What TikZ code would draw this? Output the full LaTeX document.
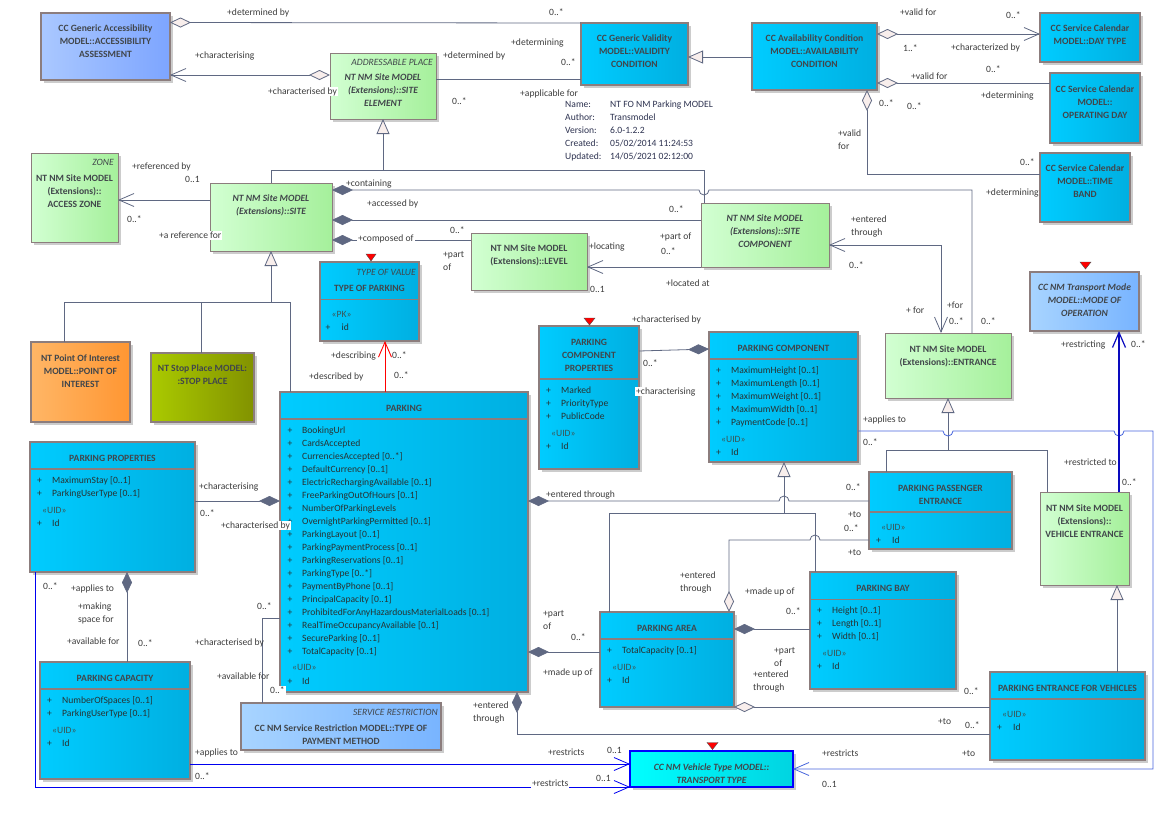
\documentclass[tikz,border=0pt]{standalone}
\usepackage{fontspec}
\setmainfont{Carlito}
\usetikzlibrary{arrows.meta,shadows}
\definecolor{cyL}{RGB}{0,204,255}
\definecolor{cyR}{RGB}{0,175,225}
\definecolor{grL}{RGB}{210,255,210}
\definecolor{grR}{RGB}{165,240,155}
\definecolor{aaL}{RGB}{170,200,255}
\definecolor{aaR}{RGB}{125,165,255}
\definecolor{moL}{RGB}{168,212,255}
\definecolor{moR}{RGB}{120,180,255}
\definecolor{orL}{RGB}{255,182,102}
\definecolor{orR}{RGB}{255,150,50}
\definecolor{olL}{RGB}{170,202,0}
\definecolor{olR}{RGB}{130,146,0}
\definecolor{ttL}{RGB}{0,255,255}
\definecolor{ttR}{RGB}{0,212,225}
\definecolor{bdr}{RGB}{140,125,125}
\definecolor{lnc}{RGB}{95,104,130}
\definecolor{hol}{RGB}{248,238,236}
\definecolor{ttx}{RGB}{65,70,75}
\definecolor{atx}{RGB}{40,50,50}
\definecolor{uidc}{RGB}{60,85,85}
\definecolor{lbc}{RGB}{60,60,60}
\definecolor{infoc}{RGB}{45,50,80}
\definecolor{blA}{RGB}{0,0,240}
\definecolor{blB}{RGB}{70,100,220}
\definecolor{blC}{RGB}{10,10,190}
\newcounter{tn}
\newcommand\fs{\fontsize{9.6pt}{13pt}\selectfont}
\newcommand\attline[4]{\node[att] at (#1,#3) {+};\node[att] at (#2,#3) {#4};}
\newcommand\lab[3]{\node[lbl] at (#1,#2) {#3};}
\newcommand\wlab[3]{\node[wlbl] at (#1,#2) {#3};}
\tikzset{
  nm/.code={\stepcounter{tn}\edef\tmpnm{\noexpand\pgfkeysalso{name=t\arabic{tn}}}\tmpnm},
  OA/.tip={Straight Barb[length=15pt,width=13pt]},
  HD/.tip={Diamond[length=21pt,width=10pt,fill=hol]},
  FD/.tip={Diamond[length=21pt,width=10pt]},
  GT/.tip={Triangle[length=15pt,width=13pt,fill=hol]},
  box/.style={inner sep=0pt, outer sep=0pt, anchor=north west, draw=bdr,
    drop shadow={shadow xshift=3pt,shadow yshift=-3pt,fill=black!20,opacity=1}},
  cbox/.style={box, line width=1.8pt, left color=cyL, right color=cyR},
  gbox/.style={box, line width=0.9pt, left color=grL, right color=grR},
  abox/.style={box, line width=1.2pt, left color=aaL, right color=aaR},
  mbox/.style={box, line width=1.2pt, left color=moL, right color=moR},
  obox/.style={box, line width=1.2pt, left color=orL, right color=orR},
  olbox/.style={box, line width=1.2pt, left color=olL, right color=olR},
  tbox/.style={box, draw=blue, line width=2.6pt, left color=ttL, right color=ttR},
  dv/.style={draw=bdr, line width=1.6pt},
  txt/.style={nm, inner sep=0pt, text height=7pt, text depth=0pt, font=\fs},
  ttl/.style={txt, font=\fs\bfseries, text=ttx},
  ttli/.style={txt, font=\fs\bfseries\itshape, text=ttx},
  ster/.style={txt, font=\fs\itshape, text=ttx, anchor=east},
  att/.style={txt, text=atx, anchor=west},
  uid/.style={txt, text=uidc, anchor=west},
  lbl/.style={txt, text=lbc, anchor=west},
  wlbl/.style={lbl, fill=white, inner xsep=1pt, inner ysep=1pt},
  info/.style={txt, text=infoc, anchor=west},
  ln/.style={draw=lnc, line width=0.8pt},
  redtri/.style={fill=red, draw=black!70, line width=0.4pt}
}
\begin{document}
\begin{tikzpicture}[x=1pt,y=-1pt]
\useasboundingbox (0,0) rectangle (1163,817);
% ---------- boxes ----------
\node[abox, minimum width=129pt, minimum height=67pt] (aa) at (41,13) {};
\node[gbox, minimum width=106pt, minimum height=66pt] (se) at (330,53) {};
\node[cbox, minimum width=107pt, minimum height=62pt] (val) at (581,23) {};
\node[cbox, minimum width=125pt, minimum height=67pt] (avail) at (752,23) {};
\node[cbox, minimum width=100pt, minimum height=49pt] (dt) at (1040,13) {};
\node[cbox, minimum width=90pt, minimum height=70pt] (od) at (1050,73) {};
\node[cbox, minimum width=90pt, minimum height=69pt] (tb) at (1040,153) {};
\node[gbox, minimum width=87pt, minimum height=89pt] (az) at (31,153) {};
\node[gbox, minimum width=122pt, minimum height=68pt] (site) at (210,183) {};
\node[cbox, minimum width=99pt, minimum height=79pt] (top) at (320,262) {};
\node[gbox, minimum width=116pt, minimum height=57pt] (lvl) at (471,233) {};
\node[gbox, minimum width=128pt, minimum height=64pt] (sc) at (701,203) {};
\node[obox, minimum width=99pt, minimum height=80pt] (poi) at (31,342) {};
\node[olbox, minimum width=103pt, minimum height=69pt] (sp) at (151,353) {};
\node[cbox, minimum width=248pt, minimum height=300pt] (park) at (280,392) {};
\node[cbox, minimum width=165pt, minimum height=130pt] (pp) at (30,442) {};
\node[cbox, minimum width=150pt, minimum height=117pt] (pc) at (40,662) {};
\node[mbox, minimum width=200pt, minimum height=47pt] (tpm) at (241,703) {};
\node[cbox, minimum width=100pt, minimum height=143pt] (pcp) at (539,326) {};
\node[cbox, minimum width=149pt, minimum height=130pt] (pcomp) at (709,332) {};
\node[gbox, minimum width=126pt, minimum height=65pt] (ent) at (885,333) {};
\node[mbox, minimum width=109pt, minimum height=59pt] (mo) at (1030,272) {};
\node[cbox, minimum width=143pt, minimum height=77pt] (ppe) at (869,472) {};
\node[gbox, minimum width=89pt, minimum height=93pt] (ve) at (1040,492) {};
\node[cbox, minimum width=146pt, minimum height=117pt] (bay) at (810,572) {};
\node[cbox, minimum width=134pt, minimum height=95pt] (pa) at (600,612) {};
\node[cbox, minimum width=155pt, minimum height=88pt] (pev) at (990,672) {};
\node[tbox, minimum width=163pt, minimum height=36pt] (tt) at (630,751) {};
% dividers
\draw[dv] (top.west |- 0,299.5) -- (top.east |- 0,299.5);
\draw[dv] (park.west |- 0,419) -- (park.east |- 0,419);
\draw[dv] (pp.west |- 0,469) -- (pp.east |- 0,469);
\draw[dv] (pc.west |- 0,689) -- (pc.east |- 0,689);
\draw[dv] (pcp.west |- 0,379) -- (pcp.east |- 0,379);
\draw[dv] (pcomp.west |- 0,359) -- (pcomp.east |- 0,359);
\draw[dv] (ppe.west |- 0,512) -- (ppe.east |- 0,512);
\draw[dv] (bay.west |- 0,599.5) -- (bay.east |- 0,599.5);
\draw[dv] (pa.west |- 0,639) -- (pa.east |- 0,639);
\draw[dv] (pev.west |- 0,699) -- (pev.east |- 0,699);
% red markers
\fill[redtri] (366,254) -- (376,254) -- (371,261) -- cycle;
\fill[redtri] (584,318) -- (595,318) -- (589.5,325) -- cycle;
\fill[redtri] (1080,262) -- (1091,262) -- (1085.5,269) -- cycle;
\fill[redtri] (707,742.5) -- (718,742.5) -- (712.5,749.5) -- cycle;
% ---------- box texts ----------
\node[ttl] at (105.5,28) {CC Generic Accessibility};
\node[ttl] at (105.5,41) {MODEL::ACCESSIBILITY};
\node[ttl] at (105.5,54) {ASSESSMENT};
\node[ster] at (433,62) {ADDRESSABLE PLACE};
\node[ttli] at (383,77) {NT NM Site MODEL};
\node[ttli] at (383,90) {(Extensions)::SITE};
\node[ttli] at (383,103) {ELEMENT};
\node[ttl] at (634.5,38) {CC Generic Validity};
\node[ttl] at (634.5,51) {MODEL::VALIDITY};
\node[ttl] at (634.5,64) {CONDITION};
\node[ttl] at (814.5,38) {CC Availability Condition};
\node[ttl] at (814.5,51) {MODEL::AVAILABILITY};
\node[ttl] at (814.5,64) {CONDITION};
\node[ttl] at (1090,28) {CC Service Calendar};
\node[ttl] at (1090,41) {MODEL::DAY TYPE};
\node[ttl] at (1095,89) {CC Service Calendar};
\node[ttl] at (1095,102) {MODEL::};
\node[ttl] at (1095,115) {OPERATING DAY};
\node[ttl] at (1085,168) {CC Service Calendar};
\node[ttl] at (1085,181) {MODEL::TIME};
\node[ttl] at (1085,194) {BAND};
\node[ster] at (114,162) {ZONE};
\node[ttl] at (74.5,178) {NT NM Site MODEL};
\node[ttl] at (74.5,191) {(Extensions)::};
\node[ttl] at (74.5,204) {ACCESS ZONE};
\node[ttli] at (271,198) {NT NM Site MODEL};
\node[ttli] at (271,211) {(Extensions)::SITE};
\node[ster] at (416,272) {TYPE OF VALUE};
\node[ttl] at (369.5,288) {TYPE OF PARKING};
\node[uid] at (331.5,313.5) {«PK»};
\attline{325.5}{341.5}{327}{id}
\node[ttl] at (529,248) {NT NM Site MODEL};
\node[ttl] at (529,261) {(Extensions)::LEVEL};
\node[ttli] at (765,218) {NT NM Site MODEL};
\node[ttli] at (765,231) {(Extensions)::SITE};
\node[ttli] at (765,244) {COMPONENT};
\node[ttl] at (80.5,358) {NT Point Of Interest};
\node[ttl] at (80.5,371) {MODEL::POINT OF};
\node[ttl] at (80.5,384) {INTEREST};
\node[ttl] at (202.5,368) {NT Stop Place MODEL:};
\node[ttl] at (202.5,381) {:STOP PLACE};
\node[ttl] at (404,408) {PARKING};
\foreach \t [count=\i from 0] in {BookingUrl, CardsAccepted, {CurrenciesAccepted [0..*]},
  {DefaultCurrency [0..1]}, {ElectricRechargingAvailable [0..1]}, {FreeParkingOutOfHours [0..1]},
  NumberOfParkingLevels, {OvernightParkingPermitted [0..1]}, {ParkingLayout [0..1]},
  {ParkingPaymentProcess [0..1]}, {ParkingReservations [0..1]}, {ParkingType [0..*]},
  {PaymentByPhone [0..1]}, {PrincipalCapacity [0..1]}, {ProhibitedForAnyHazardousMaterialLoads [0..1]},
  {RealTimeOccupancyAvailable [0..1]}, {SecureParking [0..1]}, {TotalCapacity [0..1]}}
  {\attline{287.5}{302}{430+13*\i}{\t}}
\node[uid] at (292,667) {«UID»};
\attline{287.5}{302}{680.5}{Id}
\node[ttl] at (112.5,458) {PARKING PROPERTIES};
\attline{37}{52}{480}{MaximumStay [0..1]}
\attline{37}{52}{493}{ParkingUserType [0..1]}
\node[uid] at (42,510) {«UID»};
\attline{37}{52}{523}{Id}
\node[ttl] at (115,678) {PARKING CAPACITY};
\attline{47}{62}{700}{NumberOfSpaces [0..1]}
\attline{47}{62}{713}{ParkingUserType [0..1]}
\node[uid] at (52,730) {«UID»};
\attline{47}{62}{743}{Id}
\node[ster] at (438,712) {SERVICE RESTRICTION};
\node[ttl] at (341,728) {CC NM Service Restriction MODEL::TYPE OF};
\node[ttl] at (341,741) {PAYMENT METHOD};
\node[ttl] at (589,342) {PARKING};
\node[ttl] at (589,355) {COMPONENT};
\node[ttl] at (589,368) {PROPERTIES};
\attline{546}{561}{390}{Marked}
\attline{546}{561}{403}{PriorityType}
\attline{546}{561}{416}{PublicCode}
\node[uid] at (551,433) {«UID»};
\attline{546}{561}{446}{Id}
\node[ttl] at (783.5,348) {PARKING COMPONENT};
\attline{716}{731}{370}{MaximumHeight [0..1]}
\attline{716}{731}{383}{MaximumLength [0..1]}
\attline{716}{731}{396}{MaximumWeight [0..1]}
\attline{716}{731}{409}{MaximumWidth [0..1]}
\attline{716}{731}{422}{PaymentCode [0..1]}
\node[uid] at (721,439) {«UID»};
\attline{716}{731}{452}{Id}
\node[ttl] at (948,349) {NT NM Site MODEL};
\node[ttl] at (948,362) {(Extensions)::ENTRANCE};
\node[ttli] at (1084.5,287) {CC NM Transport Mode};
\node[ttli] at (1084.5,300) {MODEL::MODE OF};
\node[ttli] at (1084.5,313) {OPERATION};
\node[ttl] at (940.5,488) {PARKING PASSENGER};
\node[ttl] at (940.5,501) {ENTRANCE};
\node[uid] at (881,527) {«UID»};
\attline{876}{892}{540}{Id}
\node[ttl] at (1084.5,508) {NT NM Site MODEL};
\node[ttl] at (1084.5,521) {(Extensions)::};
\node[ttl] at (1084.5,534) {VEHICLE ENTRANCE};
\node[ttl] at (883,588) {PARKING BAY};
\attline{817}{832}{610}{Height [0..1]}
\attline{817}{832}{623}{Length [0..1]}
\attline{817}{832}{636}{Width [0..1]}
\node[uid] at (822,653) {«UID»};
\attline{817}{832}{666}{Id}
\node[ttl] at (667,628) {PARKING AREA};
\attline{607}{622}{650}{TotalCapacity [0..1]}
\node[uid] at (612,667) {«UID»};
\attline{607}{622}{680}{Id}
\node[ttl] at (1067.5,688) {PARKING ENTRANCE FOR VEHICLES};
\node[uid] at (1002,714) {«UID»};
\attline{997}{1013}{727}{Id}
\node[ttli] at (711.5,767) {CC NM Vehicle Type MODEL::};
\node[ttli] at (711.5,780) {TRANSPORT TYPE};
% info block
\node[info] at (565,104) {Name:};    \node[info] at (610,104) {NT FO NM Parking MODEL};
\node[info] at (565,117) {Author:};  \node[info] at (610,117) {Transmodel};
\node[info] at (565,130) {Version:}; \node[info] at (610,130) {6.0-1.2.2};
\node[info] at (565,143) {Created:}; \node[info] at (610,143) {05/02/2014 11:24:53};
\node[info] at (565,156) {Updated:}; \node[info] at (610,156) {14/05/2021 02:12:00};
% ---------- connectors ----------
\draw[ln, HD-] (aa.east |- 0,22.5) -- (val.north west);
\draw[ln] (se.east |- 0,79) -- (val.west |- 0,79);
\draw[ln, HD-OA] (se.west |- 0,75) -- (aa.east |- 0,75);
\draw[ln, -GT] (site.north) -- (271,170) -- (383,170) -- (se.south);
\draw[ln] (sc.north -| 704,0) -- (704,170) -- (383,170);
\draw[ln, -OA] (site.west |- 0,200) -- (az.east |- 0,200);
\draw[ln, FD-] (site.east |- 0,190) -- (699,190) arc(180:0:5) -- (972,190) -- (ent.north -| 972,0);
\draw[ln, FD-] (site.east |- 0,220) -- (sc.west |- 0,220);
\draw[ln, FD-] (site.east |- 0,240) -- (lvl.west |- 0,240);
\draw[ln, -OA] (sc.west |- 0,267) -- (lvl.east |- 0,267);
\draw[ln, OA-OA] (ent.north -| 941,0) -- (941,245) -- (sc.east |- 0,245);
\draw[ln, -GT] (avail.west |- 0,57) -- (val.east |- 0,57);
\draw[ln, HD-OA] (avail.east |- 0,34) -- (dt.west |- 0,34);
\draw[ln, HD-] (avail.east |- 0,83) -- (od.west |- 0,83);
\draw[ln, HD-] (avail.south -| 867,0) -- (867,174) -- (tb.west |- 0,174);
\draw[ln] (poi.north -| 64,0) -- (64,302) -- (290,302) -- (park.north -| 290,0);
\draw[ln] (sp.north -| 201,0) -- (201,302);
\draw[ln, -GT] (271,302) -- (site.south);
\draw[draw=red, line width=0.9pt, -OA] (park.north -| 385,0) -- (top.south -| 385,0);
\draw[ln, FD-] (park.west |- 0,501) -- (pp.east |- 0,501);
\draw[ln, FD-] (pp.south -| 127,0) -- (pc.north -| 127,0);
\draw[draw=blA, line width=0.8pt, -OA] (pp.south -| 35,0) -- (35,787) -- (tt.west |- 0,787);
\draw[draw=blA, line width=0.8pt, -OA] (pc.east |- 0,764) -- (tt.west |- 0,764);
\draw[ln] (park.west |- 0,618) -- (262,618) -- (tpm.north -| 262,0);
\draw[ln, FD-] (park.east |- 0,652) -- (pa.west |- 0,652);
\draw[ln, FD-] (park.south -| 517,0) -- (517,734) -- (pev.west |- 0,734);
\draw[ln, HD-] (pa.south east) -- (pev.west |- pa.south east);
\draw[ln, FD-] (pa.east |- 0,629) -- (bay.west |- 0,629);
\draw[ln, HD-] (pa.north -| 729,0) -- (729,540) -- (810,540) arc(180:360:5) -- (ppe.west |- 0,540);
\draw[ln, FD-] (park.east |- 0,501) -- (779,501) arc(180:360:5) -- (ppe.west |- 0,501);
\draw[ln] (pa.north -| 609,0) -- (609,513) -- (815,513) -- (bay.north -| 815,0);
\draw[ln, -GT] (784,513) -- (pcomp.south -| 784,0);
\draw[ln] (ppe.north -| 886,0) -- (886,450) -- (1047,450) -- (ve.north -| 1047,0);
\draw[ln, -GT] (948,450) -- (ent.south);
\draw[draw=blB, line width=0.8pt, -OA] (pcomp.east |- 0,431) -- (943,431) arc(180:0:5) -- (1114,431) arc(180:0:5) -- (1153,431) -- (1153,769) -- (tt.east |- 0,769);
\draw[draw=blC, line width=1.2pt, -OA] (ve.north -| 1119,0) -- (mo.south -| 1119,0);
\draw[ln, -GT] (pev.north -| 1117,0) -- (ve.south -| 1117,0);
\draw[ln, FD-] (pcomp.west |- 0,349) -- (pcp.east |- 0,351);
% ---------- labels ----------
\lab{227}{12}{+determined by}
\lab{549}{12}{0..*}
\lab{511}{42}{+determining}
\lab{195}{55}{+characterising}
\wlab{267}{91}{+characterised by}
\lab{443}{55}{+determined by}
\lab{561}{62}{0..*}
\lab{520}{93}{+applicable for}
\lab{452}{101}{0..*}
\lab{900}{12}{+valid for}
\lab{1006}{15}{0..*}
\lab{903}{48}{1..*}
\lab{951}{47}{+characterized by}
\lab{911}{76}{+valid for}
\lab{986}{69}{0..*}
\lab{981}{95}{+determining}
\lab{879}{103}{0..*}
\lab{907}{106}{0..*}
\lab{838}{133}{+valid}
\lab{838}{146}{for}
\lab{1020}{162}{0..*}
\lab{986}{192}{+determining}
\lab{132}{166}{+referenced by}
\lab{185}{179}{0..1}
\lab{127}{219}{0..*}
\wlab{158}{235}{+a reference for}
\lab{346}{183}{+containing}
\lab{367}{203}{+accessed by}
\wlab{357}{238}{+composed of}
\lab{669}{209}{0..*}
\lab{450}{230}{0..*}
\lab{443}{254}{+part}
\lab{443}{267}{of}
\lab{589}{246}{+locating}
\lab{660}{236}{+part of}
\lab{661}{251}{0..*}
\lab{666}{283}{+located at}
\lab{590}{289}{0..1}
\lab{851}{219}{+entered}
\lab{851}{232}{through}
\lab{849}{265}{0..*}
\lab{906}{310}{+ for}
\lab{947}{305}{+for}
\lab{949}{321}{0..*}
\lab{981}{321}{0..*}
\lab{331}{355}{+describing}
\lab{392}{355}{0..*}
\lab{309}{376}{+described by}
\lab{394}{375}{0..*}
\lab{632}{319}{+characterised by}
\lab{643}{363}{0..*}
\wlab{635}{391}{+characterising}
\lab{863}{419}{+applies to}
\lab{863}{442}{0..*}
\lab{1061}{344}{+restricting}
\lab{1131}{344}{0..*}
\lab{1064}{462}{+restricted to}
\lab{1122}{482}{0..*}
\lab{199}{486}{+characterising}
\lab{200}{513}{0..*}
\wlab{220}{525}{+characterised by}
\lab{546}{494}{+entered through}
\lab{846}{487}{0..*}
\lab{848}{514}{+to}
\lab{844}{528}{0..*}
\lab{848}{552}{+to}
\lab{680}{575}{+entered}
\lab{680}{588}{through}
\lab{745}{591}{+made up of}
\lab{786}{611}{0..*}
\lab{543}{613}{+part}
\lab{543}{626}{of}
\lab{571}{637}{0..*}
\lab{543}{672}{+made up of}
\lab{774}{650}{+part}
\lab{774}{663}{of}
\lab{753}{674}{+entered}
\lab{753}{687}{through}
\lab{964}{691}{0..*}
\lab{938}{721}{+to}
\lab{965}{725}{0..*}
\lab{962}{753}{+to}
\lab{822}{753}{+restricts}
\lab{822}{784}{0..1}
\lab{473}{705}{+entered}
\lab{473}{718}{through}
\lab{43}{586}{0..*}
\lab{71}{588}{+applies to}
\lab{78}{606}{+making}
\lab{78}{619}{space for}
\lab{67}{641}{+available for}
\lab{138}{643}{0..*}
\lab{257}{606}{0..*}
\lab{195}{642}{+characterised by}
\lab{217}{676}{+available for}
\wlab{269}{690}{0..*}
\lab{195}{752}{+applies to}
\lab{195}{776}{0..*}
\lab{548}{752}{+restricts}
\lab{607}{750}{0..1}
\wlab{531}{783}{+restricts}
\lab{596}{778}{0..1}
\end{tikzpicture}
\end{document}
